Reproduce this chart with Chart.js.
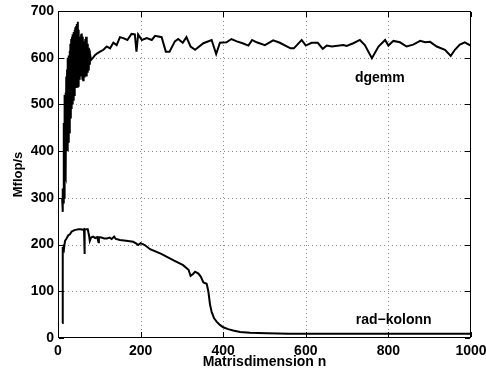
<!DOCTYPE html>
<html>
<head>
<meta charset="utf-8">
<script src="https://cdn.jsdelivr.net/npm/chart.js@4/dist/chart.umd.min.js"></script>
<style>
  html, body { margin: 0; padding: 0; background: #fff; }
</style>
</head>
<body>
<canvas id="myChart" width="486" height="374"></canvas>
<script>
const xTicks = [0, 200, 400, 600, 800, 1000];
const yTicks = [0, 100, 200, 300, 400, 500, 600, 700];

const dgemmN = [
  10, 11, 12, 13, 14, 15, 16, 17, 18, 19, 20, 21, 22, 23, 24, 25, 26, 27, 28, 29,
  30, 31, 32, 33, 34, 35, 36, 37, 38, 39, 40, 41, 42, 43, 44, 45, 46, 47, 48, 49,
  50, 51, 52, 53, 54, 55, 56, 57, 58, 59, 60, 61, 62, 63, 64, 65, 66, 67, 68, 69,
  70, 71, 72, 73, 74, 75, 76, 77, 78,
  80, 85, 90, 96, 102, 110, 118, 126, 134, 142, 150, 158, 168, 178, 186, 190, 194,
  203, 215, 227, 235, 251, 261, 270, 283, 291, 302, 311, 321, 332, 352, 372, 383,
  392, 408, 420, 433, 447, 461, 470, 481, 501, 521, 537, 563, 571, 590, 600, 614,
  629, 641, 651, 663, 691, 699, 715, 731, 743, 760, 776, 792, 800, 812, 828, 844,
  860, 877, 889, 901, 917, 937, 951, 961, 973, 985, 997, 1000
];
const dgemmMflops = [
  300, 270, 320, 290, 460, 300, 520, 350, 525, 345, 560, 400, 575, 400, 600, 420, 605, 440, 615, 460,
  630, 470, 640, 490, 645, 500, 650, 510, 655, 520, 660, 530, 665, 535, 668, 540, 672, 538, 677, 540,
  660, 555, 645, 560, 635, 565, 650, 560, 652, 555, 645, 552, 635, 560, 630, 565, 640, 560, 645, 560,
  640, 570, 630, 575, 620, 580, 615, 585, 605,
  595, 600, 606, 610, 613, 617, 624, 620, 632, 627, 644, 642, 638, 651, 650, 613, 650,
  638, 642, 638, 647, 644, 613, 613, 635, 640, 632, 644, 624, 617, 631, 638, 608,
  632, 633, 640, 635, 631, 626, 638, 633, 627, 637, 632, 620, 620, 638, 626, 632,
  632, 619, 626, 624, 627, 625, 631, 638, 627, 599, 624, 638, 626, 636, 633, 624,
  628, 636, 633, 634, 624, 617, 604, 617, 628, 633, 627, 628
];

const radN = [
  10, 11, 12, 13, 14, 15, 17, 20, 25, 29, 33, 40, 45, 50, 55, 60, 63, 64, 65, 69,
  72, 75, 77, 80, 85, 90, 95, 98, 99, 105, 112, 118, 125, 130, 136, 140, 150, 165,
  182, 190, 194, 200, 210, 223, 250, 280, 303, 316, 321, 327, 332, 340, 346, 352,
  360, 364, 368, 372, 378, 384, 392, 400, 412, 424, 441, 465, 505, 560, 700, 850, 1000
];
const radMflops = [
  32, 180, 195, 185, 200, 195, 208, 212, 220, 222, 228, 231, 232, 233, 233, 232, 233, 180, 232, 233,
  233, 220, 208, 215, 217, 214, 216, 205, 216, 215, 213, 213, 215, 212, 217, 212, 210, 208,
  206, 202, 199, 203, 199, 190, 180, 166, 156, 146, 133, 137, 142, 138, 131, 119,
  116, 100, 72, 56, 42, 35, 28, 23, 19, 16, 13, 11, 10, 9, 9, 9, 9
];

const font = "'Liberation Sans', Arial, Helvetica, sans-serif";

function toPoints(xs, ys) {
  return xs.map((n, i) => ({ x: n, y: ys[i] }));
}

// dotted grid under the lines, drawn as 1px dots
const gridPlugin = {
  id: "dottedGrid",
  beforeDatasetsDraw(chart) {
    const { ctx, chartArea, scales } = chart;
    const t = Math.round(chartArea.top);
    const b = Math.round(chartArea.bottom);
    const l = Math.round(chartArea.left);
    const r = Math.round(chartArea.right);
    ctx.save();
    ctx.fillStyle = "#8c8c8c";
    xTicks.slice(1, -1).forEach((v) => {
      const px = Math.round(scales.x.getPixelForValue(v));
      for (let py = t + 2; py < b; py += 4) ctx.fillRect(px, py, 1, 1);
    });
    yTicks.slice(1, -1).forEach((v) => {
      const py = Math.round(scales.y.getPixelForValue(v));
      for (let px = l + 2; px < r; px += 4) ctx.fillRect(px, py, 1, 1);
    });
    ctx.restore();
  },
};

// box, inward ticks and the two line labels
const framePlugin = {
  id: "frame",
  afterDraw(chart) {
    const { ctx, chartArea, scales } = chart;
    const x = scales.x;
    const y = scales.y;
    const l = Math.round(chartArea.left);
    const r = Math.round(chartArea.right) - 1;
    const t = Math.round(chartArea.top);
    const b = Math.round(chartArea.bottom) - 1;
    ctx.save();
    ctx.fillStyle = "#000";
    ctx.fillRect(l, t, r - l + 1, 1);
    ctx.fillRect(l, b, r - l + 1, 1);
    ctx.fillRect(l, t, 1, b - t + 1);
    ctx.fillRect(r, t, 1, b - t + 1);
    xTicks.forEach((v) => {
      const px = Math.round(x.getPixelForValue(v));
      ctx.fillRect(px, b - 5, 1, 5);
      ctx.fillRect(px, t + 1, 1, 5);
    });
    yTicks.forEach((v) => {
      const py = Math.round(y.getPixelForValue(v));
      ctx.fillRect(l + 1, py, 5, 1);
      ctx.fillRect(r - 5, py, 5, 1);
    });

    ctx.font = "bold 14px " + font;
    ctx.textBaseline = "middle";
    ctx.textAlign = "left";
    ctx.fillText("dgemm", x.getPixelForValue(719), y.getPixelForValue(557));
    ctx.fillText("rad\u2212kolonn", x.getPixelForValue(721), y.getPixelForValue(38));
    ctx.restore();
  },
};

const data = {
  datasets: [
    {
      label: "dgemm",
      data: toPoints(dgemmN, dgemmMflops),
      borderColor: "#000",
      borderWidth: 2,
      pointRadius: 0,
      tension: 0,
    },
    {
      label: "rad\u2212kolonn",
      data: toPoints(radN, radMflops),
      borderColor: "#000",
      borderWidth: 2,
      pointRadius: 0,
      tension: 0,
    },
  ],
};

const config = {
  type: "line",
  data: data,
  plugins: [gridPlugin, framePlugin],
  options: {
    responsive: false,
    animation: false,
    layout: {
      padding: { left: 0, right: 15, top: 11, bottom: 0 },
    },
    scales: {
      x: {
        type: "linear",
        min: 0,
        max: 1000,
        afterBuildTicks: (scale) => {
          scale.ticks = xTicks.map((v) => ({ value: v }));
        },
        afterFit: (scale) => {
          scale.height = 36;
          scale.paddingLeft = 0;
          scale.paddingRight = 0;
        },
        grid: { display: false, drawTicks: false },
        border: { display: false },
        ticks: {
          color: "#000",
          padding: 5,
          maxRotation: 0,
          callback: (v) => String(v),
          font: { family: font, size: 14, weight: "bold" },
        },
        title: {
          display: true,
          text: "Matrisdimension n",
          color: "#000",
          padding: { top: 0, bottom: 3 },
          font: { family: font, size: 14, weight: "bold" },
        },
      },
      y: {
        type: "linear",
        min: 0,
        max: 700,
        afterBuildTicks: (scale) => {
          scale.ticks = yTicks.map((v) => ({ value: v }));
        },
        afterFit: (scale) => {
          scale.width = 58;
          scale.paddingTop = 0;
          scale.paddingBottom = 0;
        },
        grid: { display: false, drawTicks: false },
        border: { display: false },
        ticks: {
          color: "#000",
          padding: 4,
          callback: (v) => String(v),
          font: { family: font, size: 14, weight: "bold" },
        },
        title: {
          display: true,
          text: "Mflop/s",
          color: "#000",
          padding: { top: 11, bottom: 0 },
          font: { family: font, size: 13, weight: "bold" },
        },
      },
    },
    plugins: {
      legend: { display: false },
      tooltip: { enabled: false },
      title: { display: false },
    },
  },
};

const myChart = new Chart(document.getElementById("myChart"), config);
</script>
</body>
</html>
